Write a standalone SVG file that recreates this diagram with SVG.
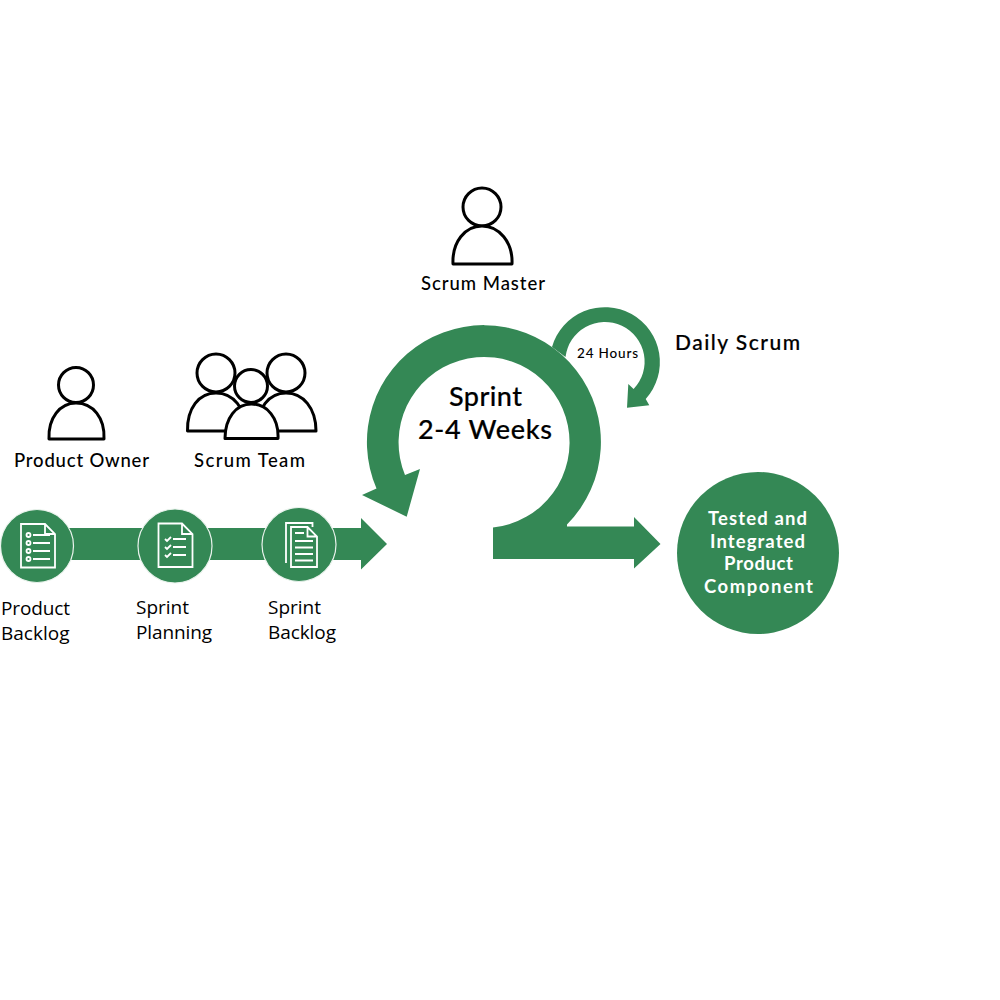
<svg xmlns="http://www.w3.org/2000/svg" width="1000" height="1000" viewBox="0 0 1000 1000">
<style>
.g{fill:#348855}
.ring{fill:#348855;stroke:#eaf3ed;stroke-width:1.2}
.p{fill:#fff;stroke:#000;stroke-width:3;stroke-linejoin:round}
.ic{fill:none;stroke:#fff;stroke-width:1.8}
.t{font-family:"Lato","Liberation Sans",sans-serif;fill:#000;font-weight:500}
.h{stroke:#000;stroke-width:.2}
.s{font-family:"Open Sans","Liberation Sans",sans-serif;fill:#000;font-size:19px}
.w{font-family:"Lato","Liberation Sans",sans-serif;fill:#fff;font-size:18.5px;font-weight:700}
</style>
<rect width="1000" height="1000" fill="#fff"/>
<g id="connectors">
<path class="g" d="M60 528H361V518L387 544L361 569.500V560H60Z"/>
<path class="g" d="M493 527.500A85.500 85.500 0 1 0 405 475L420 469L406.700 516.700L362 495L376.500 488.500A117 117 0 1 1 567 524.500V526.500H634V517L660.500 544L634 568.500V559H493Z"/>
<path class="g" d="M552 347A55 55 0 1 1 645.700 399L649.300 405.300L627 407.700L628.300 384L633.600 389.100A39.700 39.700 0 1 0 565.500 357Z"/>
</g>
<g id="product-owner">
<circle class="p" cx="76" cy="385" r="17.500"/>
<path class="p" d="M49 439C48 418 60 403 76 403C93 403 105 418 104 439Z"/>
<text class="t" x="14" y="467" font-size="18.500" textLength="135">Product Owner</text>
</g>
<g id="scrum-team">
<path class="p" d="M187.500 431C187 408 199 393 216 393C233 393 246 408 246 431Z"/>
<circle class="p" cx="216" cy="373" r="19"/>
<path class="p" d="M257 431C257 408 269 393 286 393C303 393 316 408 316 431Z"/>
<circle class="p" cx="286" cy="373" r="19"/>
<circle class="p" cx="251" cy="386" r="16.500"/>
<path class="p" d="M225 438.500C225 418 236 404 251.500 404C267 404 279 418 278 438.500Z"/>
<text class="t" x="194" y="467" font-size="18.500" textLength="111">Scrum Team</text>
</g>
<g id="scrum-master">
<circle class="p" cx="482" cy="207" r="19"/>
<path class="p" d="M453 264C452 242 465 226 482 226C499 226 513 242 512 264Z"/>
<text class="t" x="421" y="290" font-size="18.500" textLength="124">Scrum Master</text>
</g>
<g id="product-backlog">
<circle class="ring" cx="37" cy="546" r="36.500"/>
<path class="ic" d="M21 524H45L55 534V567.500H21ZM45 524V534H55"/>
<path class="ic" d="M33 535H50M33 543H50M33 551H50M33 559H50"/>
<circle class="ic" cx="28.500" cy="535" r="2"/><circle class="ic" cx="28.500" cy="543" r="2"/><circle class="ic" cx="28.500" cy="551" r="2"/><circle class="ic" cx="28.500" cy="559" r="2"/>
<text class="s" x="1" y="615" textLength="69">Product</text>
<text class="s" x="1" y="640">Backlog</text>
</g>
<g id="sprint-planning">
<circle class="ring" cx="175" cy="546" r="37"/>
<path class="ic" d="M158.500 523.500H182L192.500 534V567H158.500ZM182 523.500V534H192.500"/>
<path class="ic" d="M165 539L167 541L171 537M165 547L167 549L171 545M165 555L167 557L171 553"/>
<path class="ic" d="M173 539H186M173 547H186M173 555H186"/>
<text class="s" x="136" y="614">Sprint</text>
<text class="s" x="136" y="639" textLength="76">Planning</text>
</g>
<g id="sprint-backlog">
<circle class="ring" cx="299" cy="544.500" r="37"/>
<path class="ic" d="M286 563V523H312.500V527"/>
<path class="ic" d="M291 527H307.500L317 536.500V567H291ZM307.500 527V536.500H317"/>
<path class="ic" d="M295 533H304M295 541H313M295 547.500H313M295 554H313M295 560.500H313"/>
<text class="s" x="268" y="614">Sprint</text>
<text class="s" x="268" y="639" textLength="68">Backlog</text>
</g>
<g id="sprint">
<text class="t h" x="449" y="406" font-size="27" textLength="73">Sprint</text>
<text class="t h" x="418" y="439" font-size="27" textLength="134">2-4 Weeks</text>
</g>
<g id="daily-scrum">
<text class="t" x="577" y="358" font-size="13.500" textLength="61">24 Hours</text>
<text class="t h" x="675" y="350" font-size="21" textLength="125">Daily Scrum</text>
</g>
<g id="product-component">
<circle class="g" cx="758" cy="553" r="81"/>
<text class="w" x="708" y="525" textLength="99">Tested and</text>
<text class="w" x="710" y="547.500" textLength="95">Integrated</text>
<text class="w" x="724" y="570" textLength="69">Product</text>
<text class="w" x="704" y="593" textLength="109">Component</text>
</g>
</svg>
